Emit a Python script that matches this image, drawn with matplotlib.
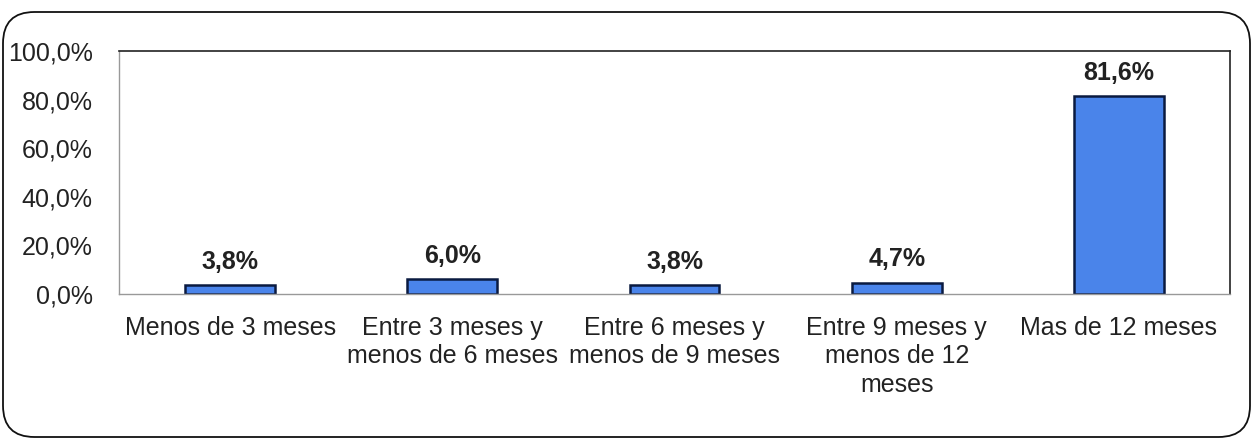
import matplotlib.pyplot as plt
from matplotlib.patches import FancyBboxPatch

plt.rcParams['font.family'] = ['Liberation Sans', 'DejaVu Sans']

# data
categorias = ['Menos de 3 meses',
              'Entre 3 meses y\nmenos de 6 meses',
              'Entre 6 meses y\nmenos de 9 meses',
              'Entre 9 meses y\nmenos de 12\nmeses',
              'Mas de 12 meses']
porcentajes = [3.8, 6.0, 3.8, 4.7, 81.6]
ticks_y = [0, 20, 40, 60, 80, 100]

fig = plt.figure(figsize=(12.55, 4.41), dpi=100)
ax = fig.add_axes([119/1255, 1 - 294/441, (1230-119)/1255, (294-51)/441])

x = range(len(categorias))
barras = ax.bar(x, porcentajes, width=0.405, color='#4a84ea', edgecolor='#0a1a40', linewidth=1.8)
for b, v in zip(barras, porcentajes):
    ax.annotate(f'{v:.1f}%'.replace('.', ','), (b.get_x() + b.get_width()/2, v),
                xytext=(0, 8), textcoords='offset points',
                ha='center', va='bottom', fontsize=18, fontweight='bold', color='#222222')

ax.set_xlim(-0.5, len(categorias) - 0.5)
ax.set_ylim(0, 100)
ax.set_yticks(ticks_y)
ax.set_yticklabels([f'{t:.1f}%'.replace('.', ',') for t in ticks_y], fontsize=18, color='#222222')
ax.set_xticks(list(x))
ax.set_xticklabels(categorias, fontsize=18, color='#222222', linespacing=1.22)
ax.tick_params(length=0)
ax.tick_params(axis='y', pad=19)
ax.tick_params(axis='x', pad=16)
for s in ['top', 'right']:
    ax.spines[s].set_color('#222222')
    ax.spines[s].set_linewidth(1.2)
for s in ['left', 'bottom']:
    ax.spines[s].set_color('#999999')
    ax.spines[s].set_linewidth(1.0)

marco = FancyBboxPatch((3/1255, 4/441), 1247/1255, 425/441,
                       boxstyle='round,pad=0,rounding_size=0.025',
                       transform=fig.transFigure, fill=False,
                       edgecolor='#111111', linewidth=1.3, mutation_aspect=1255/441)
fig.patches.append(marco)

fig.savefig('out.png', dpi=100)
